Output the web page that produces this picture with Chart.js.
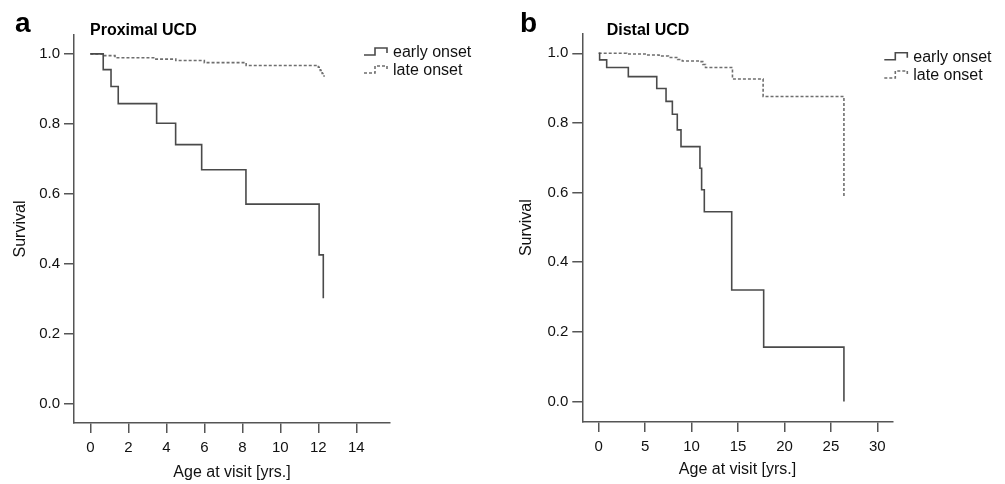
<!DOCTYPE html>
<html>
<head>
<meta charset="utf-8">
<script src="https://cdn.jsdelivr.net/npm/chart.js@4.4.1/dist/chart.umd.min.js"></script>
<style>
  html, body { margin: 0; padding: 0; background: #fff; }
  body { width: 1005px; height: 484px; position: relative; overflow: hidden; }
  .panel { position: absolute; top: 0; }
  #pa { left: 0; }
  #pb { left: 502px; }
</style>
</head>
<body>
<div class="panel" id="pa"><canvas id="ca" width="502" height="484"></canvas></div>
<div class="panel" id="pb"><canvas id="cb" width="503" height="484"></canvas></div>
<script>
// ---------- DATA ----------
const seriesLabels = ['early onset', 'late onset'];
const yTicks = [0.0, 0.2, 0.4, 0.6, 0.8, 1.0];

// Panel a: Proximal UCD
const aXTicks = [0, 2, 4, 6, 8, 10, 12, 14];
const aEarlyX = [0, 0.68, 1.09, 1.47, 3.49, 4.49, 5.86, 8.19, 12.04, 12.26];
const aEarlyY = [1.0, 0.955, 0.907, 0.858, 0.802, 0.741, 0.669, 0.571, 0.426, 0.302];
const aLateX  = [0, 0.7, 1.3, 3.4, 4.5, 6.0, 8.2, 12.0, 12.1, 12.2, 12.3];
const aLateY  = [1.0, 0.995, 0.989, 0.985, 0.981, 0.975, 0.967, 0.962, 0.953, 0.944, 0.935];

// Panel b: Distal UCD
const bXTicks = [0, 5, 10, 15, 20, 25, 30];
const bEarlyX = [0, 0.1, 0.86, 3.19, 6.25, 7.25, 7.93, 8.46, 8.86, 10.9, 11.08, 11.37, 14.32, 17.76, 26.4];
const bEarlyY = [1.0, 0.981, 0.959, 0.933, 0.899, 0.862, 0.825, 0.780, 0.732, 0.670, 0.608, 0.545, 0.320, 0.156, 0.0];
const bLateX  = [0, 3, 5, 6.5, 7.5, 8.5, 9.0, 10.9, 11.2, 11.5, 14.4, 17.7, 26.4];
const bLateY  = [1.0, 0.998, 0.995, 0.992, 0.988, 0.982, 0.978, 0.976, 0.968, 0.959, 0.926, 0.876, 0.589];

// ---------- STYLE / HELPERS ----------
Chart.defaults.font.family = '"Liberation Sans", Arial, Helvetica, sans-serif';
Chart.defaults.color = '#111';
const AX = '#555';

function pts(xs, ys) { return xs.map((x, i) => ({ x: x, y: ys[i] })); }

const headPlugin = {
  id: 'panelHead',
  afterDraw(chart, args, o) {
    const ctx = chart.ctx;
    ctx.save();
    ctx.fillStyle = '#000';
    ctx.textBaseline = 'alphabetic';
    ctx.textAlign = 'left';
    ctx.font = 'bold 28px "Liberation Sans", Arial, sans-serif';
    ctx.fillText(o.letter, o.letterX, o.letterY);
    ctx.font = 'bold 16px "Liberation Sans", Arial, sans-serif';
    ctx.fillText(o.title, o.titleX, o.titleY);
    ctx.restore();
  }
};

const stepLegend = {
  id: 'stepLegend',
  afterDraw(chart, args, o) {
    const ctx = chart.ctx;
    ctx.save();
    chart.data.datasets.forEach((ds, i) => {
      const y0 = o.y + i * o.gap;
      const x = o.x;
      ctx.beginPath();
      ctx.strokeStyle = ds.borderColor;
      ctx.lineWidth = ds.borderWidth;
      ctx.setLineDash(ds.borderDash || []);
      ctx.moveTo(x, y0 + 3);
      ctx.lineTo(x + 11, y0 + 3);
      ctx.lineTo(x + 11, y0 - 4);
      ctx.lineTo(x + 23, y0 - 4);
      ctx.lineTo(x + 23, y0 + 1);
      ctx.stroke();
      ctx.setLineDash([]);
      ctx.fillStyle = '#111';
      ctx.font = '16px "Liberation Sans", Arial, sans-serif';
      ctx.textBaseline = 'middle';
      ctx.textAlign = 'left';
      ctx.fillText(ds.label, o.textX, y0 + 1);
    });
    ctx.restore();
  }
};

function makeChart(id, cfg) {
  const datasets = [
    { label: seriesLabels[0], data: pts(cfg.earlyX, cfg.earlyY), borderColor: '#4a4a4a', borderWidth: 1.6, stepped: 'before', pointRadius: 0, fill: false },
    { label: seriesLabels[1], data: pts(cfg.lateX, cfg.lateY), borderColor: '#6e6e6e', borderWidth: 1.6, borderDash: [3, 2], stepped: 'before', pointRadius: 0, fill: false }
  ];
  return new Chart(document.getElementById(id), {
    type: 'line',
    data: { datasets: datasets },
    plugins: [headPlugin, stepLegend],
    options: {
      responsive: false,
      animation: false,
      devicePixelRatio: 1,
      layout: { padding: cfg.pad },
      plugins: {
        legend: { display: false },
        tooltip: { enabled: false },
        panelHead: cfg.head,
        stepLegend: cfg.legend
      },
      scales: {
        x: {
          type: 'linear',
          min: cfg.xMin, max: cfg.xMax,
          afterBuildTicks: s => { s.ticks = cfg.xTicks.map(v => ({ value: v })); },
          afterFit: s => { s.height = cfg.xHeight; },
          ticks: { font: { size: 15 }, color: '#111', padding: 6, maxRotation: 0, autoSkip: false },
          grid: { drawOnChartArea: false, drawTicks: true, tickLength: 10, color: AX, lineWidth: 1.5 },
          border: { display: true, color: AX, width: 1.5 },
          title: { display: true, text: 'Age at visit [yrs.]', font: { size: 16 }, color: '#111', padding: { top: 0, bottom: cfg.xTitlePad } }
        },
        y: {
          type: 'linear',
          min: cfg.yMin, max: cfg.yMax,
          afterBuildTicks: s => { s.ticks = yTicks.map(v => ({ value: v })); },
          afterFit: s => { s.width = cfg.yWidth; },
          ticks: { font: { size: 15 }, color: '#111', padding: 4, callback: v => v.toFixed(1) },
          grid: { drawOnChartArea: false, drawTicks: true, tickLength: 10, color: AX, lineWidth: 1.5 },
          border: { display: true, color: AX, width: 1.5 },
          title: { display: true, text: 'Survival', font: { size: 16 }, color: '#111', padding: { top: cfg.yTitlePad, bottom: 0 } }
        }
      }
    }
  });
}

makeChart('ca', {
  earlyX: aEarlyX, earlyY: aEarlyY, lateX: aLateX, lateY: aLateY, xTicks: aXTicks,
  xMin: -0.858, xMax: 15.77, yMin: -0.054, yMax: 1.054,
  pad: { left: 0, right: 112, top: 35, bottom: 0 },
  xHeight: 61, yWidth: 74, xTitlePad: 1.4, yTitlePad: 11,
  head: { letter: 'a', letterX: 15, letterY: 32, title: 'Proximal UCD', titleX: 90, titleY: 35 },
  legend: { x: 364, textX: 393, y: 52, gap: 18 }
});

makeChart('cb', {
  earlyX: bEarlyX, earlyY: bEarlyY, lateX: bLateX, lateY: bLateY, xTicks: bXTicks,
  xMin: -1.765, xMax: 31.65, yMin: -0.0589, yMax: 1.0574,
  pad: { left: 0, right: 112.3, top: 33.3, bottom: 0 },
  xHeight: 62, yWidth: 80.3, xTitlePad: 4.4, yTitlePad: 15.4,
  head: { letter: 'b', letterX: 18, letterY: 32, title: 'Distal UCD', titleX: 104.7, titleY: 35 },
  legend: { x: 382.3, textX: 411.3, y: 56.7, gap: 18.3 }
});
</script>
</body>
</html>
